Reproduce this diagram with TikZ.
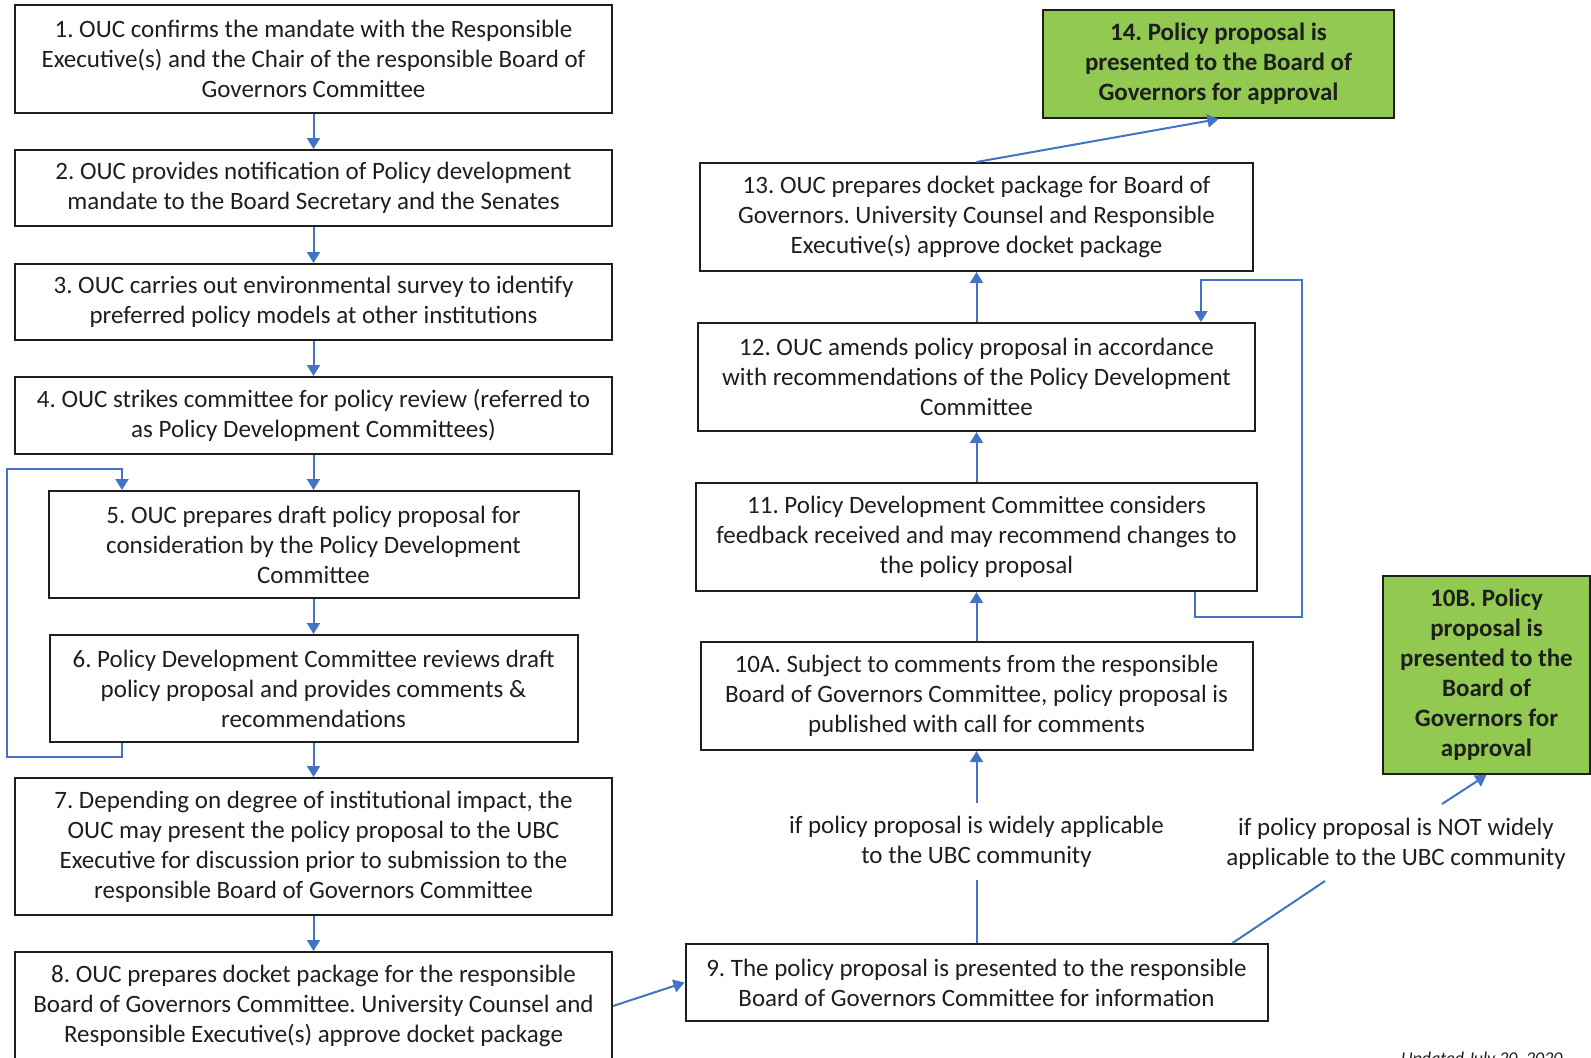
\documentclass[tikz,border=0pt]{standalone}
\usepackage{fontspec}
\setmainfont{Carlito}
\usetikzlibrary{arrows.meta}
\definecolor{lineblue}{RGB}{68,114,196}
\definecolor{boxgreen}{RGB}{146,201,81}
\definecolor{txt}{RGB}{30,30,30}
\frenchspacing
\begin{document}
\begin{tikzpicture}[x=0.5pt,y=-0.5pt,
  box/.style={draw=txt, line width=1pt, rectangle, align=center, inner sep=0pt, text=txt,
     font=\fontsize{12.5}{15}\selectfont},
  gbox/.style={box, fill=boxgreen, font=\fontsize{12.5}{15}\selectfont\bfseries},
  lbl/.style={align=center, inner sep=0pt, text=txt, font=\fontsize{12.5}{15}\selectfont},
  bl/.style={draw=lineblue, line width=1pt},
  arr/.style={bl, -{Triangle[length=5.5pt,width=6.5pt]}}]
\useasboundingbox (0,0) rectangle (1591,1057);
% left column
\node[box, minimum width=298.5pt, minimum height=54pt] (b1) at (313.5,59)
  {1. OUC confirms the mandate with the Responsible\\Executive(s) and the Chair of the responsible Board of\\Governors Committee};
\node[box, minimum width=298.5pt, minimum height=38pt] (b2) at (313.5,188)
  {2. OUC provides notification of Policy development\\mandate to the Board Secretary and the Senates};
\node[box, minimum width=298.5pt, minimum height=38pt] (b3) at (313.5,302)
  {3. OUC carries out environmental survey to identify\\preferred policy models at other institutions};
\node[box, minimum width=298.5pt, minimum height=38.5pt] (b4) at (313.5,415.5)
  {4. OUC strikes committee for policy review (referred to\\as Policy Development Committees)};
\node[box, minimum width=265pt, minimum height=53.5pt] (b5) at (313.5,544.5)
  {5. OUC prepares draft policy proposal for\\consideration by the Policy Development\\Committee};
\node[box, minimum width=264pt, minimum height=53.5pt] (b6) at (313.5,688.5)
  {6. Policy Development Committee reviews draft\\policy proposal and provides comments \&\\recommendations};
\node[box, minimum width=298.5pt, minimum height=68.5pt] (b7) at (313.5,846.5)
  {7. Depending on degree of institutional impact, the\\OUC may present the policy proposal to the UBC\\Executive for discussion prior to submission to the\\responsible Board of Governors Committee};
\node[box, minimum width=298.5pt, minimum height=54pt] (b8) at (313.5,1006)
  {8. OUC prepares docket package for the responsible\\Board of Governors Committee. University Counsel and\\Responsible Executive(s) approve docket package};
% right column
\node[gbox, minimum width=175.5pt, minimum height=54pt] (b14) at (1218.5,64)
  {14. Policy proposal is\\presented to the Board of\\Governors for approval};
\node[box, minimum width=276.5pt, minimum height=54pt] (b13) at (976.5,217)
  {13. OUC prepares docket package for Board of\\Governors. University Counsel and Responsible\\Executive(s) approve docket package};
\node[box, minimum width=278.5pt, minimum height=54pt] (b12) at (976.5,377)
  {12. OUC amends policy proposal in accordance\\with recommendations of the Policy Development\\Committee};
\node[box, minimum width=280.5pt, minimum height=54pt] (b11) at (976.5,537)
  {11. Policy Development Committee considers\\feedback received and may recommend changes to\\the policy proposal};
\node[box, minimum width=276pt, minimum height=54pt] (b10a) at (976.5,696)
  {10A. Subject to comments from the responsible\\Board of Governors Committee, policy proposal is\\published with call for comments};
\node[box, minimum width=291pt, minimum height=38.5pt] (b9) at (976.5,982.5)
  {9. The policy proposal is presented to the responsible\\Board of Governors Committee for information};
\node[gbox, minimum width=103.5pt, minimum height=99pt] (b10b) at (1486.5,675)
  {10B. Policy\\proposal is\\presented to the\\Board of\\Governors for\\approval};
\node[lbl, minimum height=38.5pt] (la) at (976.5,841.5)
  {if policy proposal is widely applicable\\to the UBC community};
\node[lbl] (lb) at (1396,844)
  {if policy proposal is NOT widely\\applicable to the UBC community};
\node[anchor=base east, inner sep=0pt, text=txt, font=\fontsize{9}{11}\selectfont\itshape] (upd) at (1563,1064) {Updated July 20, 2020};
% left connectors
\draw[arr] (b1) -- (b2);
\draw[arr] (b2) -- (b3);
\draw[arr] (b3) -- (b4);
\draw[arr] (b4) -- (b5);
\draw[arr] (b5) -- (b6);
\draw[arr] (b6) -- (b7);
\draw[arr] (b7) -- (b8);
\coordinate (lx) at (122,0);
\coordinate (lbot) at (7,757);
\coordinate (ltop) at (7,469);
\draw[arr] (b6.south -| lx) |- (lbot) |- (ltop) -| (b5.north -| lx);
\draw[arr] (b8.east) -- (b9.west);
% right connectors
\draw[bl] (b9.north) -- (la.south);
\draw[arr] (la.north) -- (b10a.south);
\draw[arr] (b10a) -- (b11);
\draw[arr] (b11) -- (b12);
\draw[arr] (b12) -- (b13);
\draw[arr] (b13.north) -- (b14.south);
\coordinate (rx1) at (1195,0);
\coordinate (rx2) at (1201,0);
\coordinate (rbot) at (1302,617);
\coordinate (rtop) at (1302,280);
\draw[arr] (b11.south -| rx1) |- (rbot) -- (rtop) -| (b12.north -| rx2);
\coordinate (nb1) at (1325,881);
\coordinate (nb2) at (1442,804);
\draw[bl] ([xshift=-18pt]b9.north east) -- (nb1);
\draw[arr] (nb2) -- (b10b.south);
\end{tikzpicture}
\end{document}
